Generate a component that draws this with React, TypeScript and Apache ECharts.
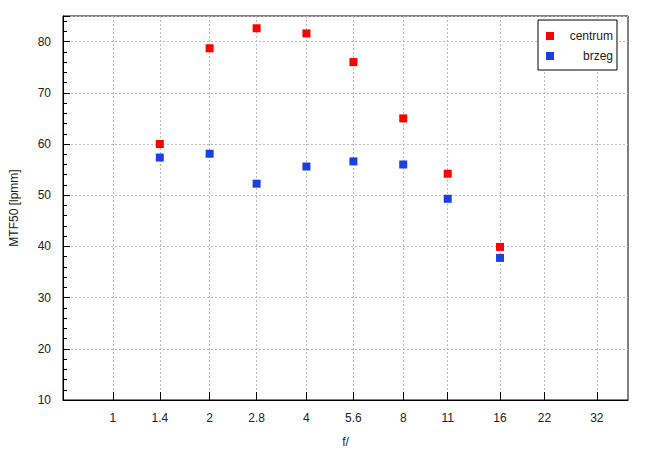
import React, { useEffect, useRef } from "react";
import * as echarts from "echarts";

const fStops = [1, 1.4, 2, 2.8, 4, 5.6, 8, 11, 16, 22, 32];
const measuredStops = [1.4, 2, 2.8, 4, 5.6, 8, 11, 16];
const centrum = [60.0, 78.7, 82.6, 81.6, 76.0, 65.0, 54.2, 39.9];
const brzeg = [57.35, 58.1, 52.25, 55.6, 56.6, 56.0, 49.3, 37.75];
const seriesNames = ["centrum", "brzeg"];

export default function App() {
  const ref = useRef<HTMLDivElement>(null);
  useEffect(() => {
    if (!ref.current) return;
    const chart = echarts.init(ref.current, undefined, { renderer: "svg" });
    const font = "Liberation Sans, Arial, sans-serif";
    const pair = (vals: number[]) => measuredStops.map((f, i) => [f, vals[i]]);
    chart.setOption({
      animation: false,
      backgroundColor: "#fff",
      textStyle: { fontFamily: font },
      grid: {
        left: 62,
        right: 22,
        top: 16,
        bottom: 55,
        show: true,
        borderColor: "#000",
        borderWidth: 1,
      },
      legend: {
        orient: "vertical",
        right: 33,
        top: 20,
        padding: [10, 4, 8, 8],
        borderColor: "#000",
        borderWidth: 1,
        backgroundColor: "#fff",
        icon: "rect",
        itemWidth: 8,
        itemHeight: 8,
        itemGap: 8,
        data: seriesNames,
        formatter: "{a|{name}}",
        textStyle: {
          fontSize: 12,
          color: "#222",
          fontFamily: font,
          rich: { a: { width: 54, align: "right", fontSize: 12, color: "#222", fontFamily: font } },
        },
      },
      xAxis: {
        type: "log",
        logBase: 2,
        min: 0.7,
        max: 40,
        name: "f/",
        nameLocation: "middle",
        nameGap: 36,
        nameTextStyle: { fontSize: 12, color: "#222" },
        axisLine: { lineStyle: { color: "#000", width: 1 } },
        axisTick: { inside: true, length: 8, lineStyle: { color: "#000" }, customValues: fStops },
        axisLabel: {
          color: "#222",
          fontSize: 12,
          margin: 12,
          customValues: fStops,
          formatter: (v: number) => {
            const m = fStops.find((f) => Math.abs(f - v) < 0.01);
            return m !== undefined ? String(m) : "";
          },
        },
        splitLine: { show: true, lineStyle: { color: "#bbb", type: [2, 2] } },
        minorTick: { show: false },
      },
      yAxis: {
        type: "value",
        min: 10,
        max: 85,
        interval: 10,
        name: "MTF50 [lpmm]",
        nameLocation: "middle",
        nameGap: 43,
        nameTextStyle: { fontSize: 12, color: "#222" },
        axisLine: { lineStyle: { color: "#000", width: 1 } },
        axisTick: { inside: true, length: 7, lineStyle: { color: "#000" } },
        minorTick: { show: true, splitNumber: 5, length: 4, lineStyle: { color: "#000" } },
        axisLabel: { color: "#222", fontSize: 12, margin: 12, showMaxLabel: false },
        splitLine: { show: true, lineStyle: { color: "#bbb", type: [2, 2] } },
      },
      series: [
        {
          name: seriesNames[0],
          type: "scatter",
          symbol: "rect",
          symbolSize: 8,
          itemStyle: { color: "#ff0000", opacity: 1 },
          data: pair(centrum),
        },
        {
          name: seriesNames[1],
          type: "scatter",
          symbol: "rect",
          symbolSize: 8,
          itemStyle: { color: "#1c3fe3", opacity: 1 },
          data: pair(brzeg),
        },
      ],
    });
    return () => chart.dispose();
  }, []);
  return (
    <div
      ref={ref}
      style={{ position: "fixed", left: 0, top: 0, width: 650, height: 455 }}
    />
  );
}
